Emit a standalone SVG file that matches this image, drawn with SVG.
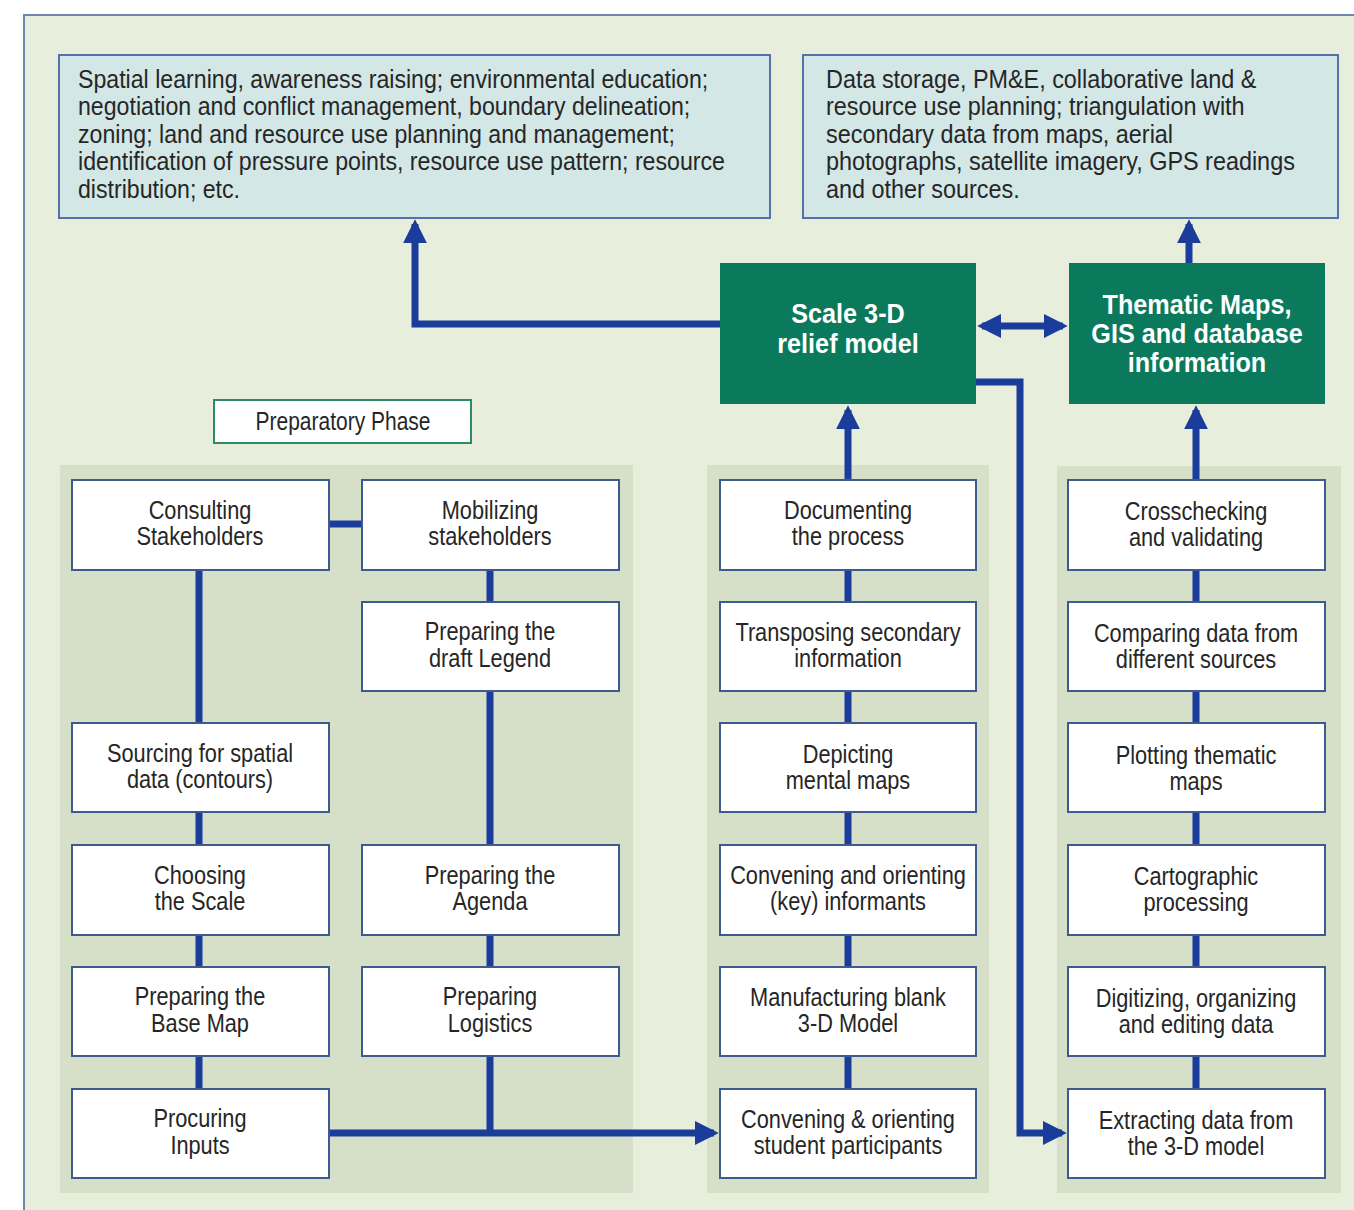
<svg xmlns="http://www.w3.org/2000/svg" width="1354" height="1210" viewBox="0 0 1354 1210">
<defs>
<style>
.frame{fill:#e8eedc;stroke:#6f86b0;stroke-width:2}
.band{fill:#d6dfc8}
.top{fill:#d3e7e6;stroke:#5571a8;stroke-width:2}
.node{fill:#ffffff;stroke:#3f5a8e;stroke-width:2}
.green{fill:#0b7a5c}
.phase{fill:#ffffff;stroke:#2f8a68;stroke-width:2}
.t{font-family:"Liberation Sans",Arial,sans-serif;fill:#262626;text-anchor:middle;font-size:25px}
.tl{font-family:"Liberation Sans",Arial,sans-serif;fill:#262626;font-size:26px}
.tg{font-family:"Liberation Sans",Arial,sans-serif;fill:#ffffff;text-anchor:middle;font-size:28px;font-weight:bold}
.c{fill:none;stroke:#1a3c9a;stroke-width:7}
</style>
<marker id="ah" viewBox="0 0 10 10" refX="8" refY="5" markerWidth="3.4" markerHeight="3.4" orient="auto-start-reverse" markerUnits="strokeWidth">
<path d="M0,0 L10,5 L0,10 Z" fill="#1a3c9a"/>
</marker>
</defs>
<rect x="0" y="0" width="1354" height="1210" fill="#ffffff"/>
<rect class="frame" x="24" y="15" width="1340" height="1205"/>
<g id="bands">
<rect class="band" x="60" y="465" width="573" height="728"/>
<rect class="band" x="707" y="465" width="282" height="728"/>
<rect class="band" x="1057" y="466" width="284" height="727"/>
</g>
<g id="connectors">
<polyline class="c" points="720,324 415,324 415,224" marker-end="url(#ah)"/>
<line class="c" x1="1189" y1="263" x2="1189" y2="224" marker-end="url(#ah)"/>
<line class="c" x1="982" y1="326" x2="1063" y2="326" marker-start="url(#ah)" marker-end="url(#ah)"/>
<line class="c" x1="848" y1="1089" x2="848" y2="410" marker-end="url(#ah)"/>
<line class="c" x1="1196" y1="1089" x2="1196" y2="410" marker-end="url(#ah)"/>
<polyline class="c" points="976,382 1020,382 1020,1133 1062,1133" marker-end="url(#ah)"/>
<line class="c" x1="329" y1="1133" x2="714" y2="1133" marker-end="url(#ah)"/>
<line class="c" x1="490" y1="570" x2="490" y2="1133"/>
<line class="c" x1="199" y1="570" x2="199" y2="1089"/>
<line class="c" x1="329" y1="524" x2="362" y2="524"/>
</g>
<g id="top-left">
<rect class="top" x="59" y="55" width="711" height="163"/>
<text class="tl" transform="translate(78,88) scale(0.89,1)">Spatial learning, awareness raising; environmental education;</text>
<text class="tl" transform="translate(78,115) scale(0.89,1)">negotiation and conflict management, boundary delineation;</text>
<text class="tl" transform="translate(78,143) scale(0.89,1)">zoning; land and resource use planning and management;</text>
<text class="tl" transform="translate(78,170) scale(0.89,1)">identification of pressure points, resource use pattern; resource</text>
<text class="tl" transform="translate(78,198) scale(0.89,1)">distribution; etc.</text>
</g>
<g id="top-right">
<rect class="top" x="803" y="55" width="535" height="163"/>
<text class="tl" transform="translate(826,88) scale(0.9,1)">Data storage, PM&amp;E, collaborative land &amp;</text>
<text class="tl" transform="translate(826,115) scale(0.9,1)">resource use planning; triangulation with</text>
<text class="tl" transform="translate(826,143) scale(0.9,1)">secondary data from maps, aerial</text>
<text class="tl" transform="translate(826,170) scale(0.9,1)">photographs, satellite imagery, GPS readings</text>
<text class="tl" transform="translate(826,198) scale(0.9,1)">and other sources.</text>
</g>
<g id="scale-model">
<rect class="green" x="720" y="263" width="256" height="141"/>
<text class="tg" transform="translate(848,323) scale(0.9,1)">Scale 3-D</text>
<text class="tg" transform="translate(848,353) scale(0.9,1)">relief model</text>
</g>
<g id="thematic-maps">
<rect class="green" x="1069" y="263" width="256" height="141"/>
<text class="tg" transform="translate(1197,314) scale(0.9,1)">Thematic Maps,</text>
<text class="tg" transform="translate(1197,343) scale(0.9,1)">GIS and database</text>
<text class="tg" transform="translate(1197,372) scale(0.9,1)">information</text>
</g>
<g id="preparatory-phase">
<rect class="phase" x="214" y="400" width="257" height="43"/>
<text class="t" transform="translate(343,430) scale(0.84,1)">Preparatory Phase</text>
</g>
<g id="consulting">
<rect class="node" x="72" y="480" width="257" height="90"/>
<text class="t" transform="translate(200,519) scale(0.87,1)">Consulting</text><text class="t" transform="translate(200,545) scale(0.87,1)">Stakeholders</text>
</g>
<g id="mobilizing">
<rect class="node" x="362" y="480" width="257" height="90"/>
<text class="t" transform="translate(490,519) scale(0.87,1)">Mobilizing</text><text class="t" transform="translate(490,545) scale(0.87,1)">stakeholders</text>
</g>
<g id="draft-legend">
<rect class="node" x="362" y="602" width="257" height="89"/>
<text class="t" transform="translate(490,640) scale(0.87,1)">Preparing the</text><text class="t" transform="translate(490,667) scale(0.87,1)">draft Legend</text>
</g>
<g id="sourcing">
<rect class="node" x="72" y="723" width="257" height="89"/>
<text class="t" transform="translate(200,762) scale(0.87,1)">Sourcing for spatial</text><text class="t" transform="translate(200,788) scale(0.87,1)">data (contours)</text>
</g>
<g id="choosing-scale">
<rect class="node" x="72" y="845" width="257" height="90"/>
<text class="t" transform="translate(200,884) scale(0.87,1)">Choosing</text><text class="t" transform="translate(200,910) scale(0.87,1)">the Scale</text>
</g>
<g id="agenda">
<rect class="node" x="362" y="845" width="257" height="90"/>
<text class="t" transform="translate(490,884) scale(0.87,1)">Preparing the</text><text class="t" transform="translate(490,910) scale(0.87,1)">Agenda</text>
</g>
<g id="base-map">
<rect class="node" x="72" y="967" width="257" height="89"/>
<text class="t" transform="translate(200,1005) scale(0.87,1)">Preparing the</text><text class="t" transform="translate(200,1032) scale(0.87,1)">Base Map</text>
</g>
<g id="logistics">
<rect class="node" x="362" y="967" width="257" height="89"/>
<text class="t" transform="translate(490,1005) scale(0.87,1)">Preparing</text><text class="t" transform="translate(490,1032) scale(0.87,1)">Logistics</text>
</g>
<g id="procuring">
<rect class="node" x="72" y="1089" width="257" height="89"/>
<text class="t" transform="translate(200,1127) scale(0.87,1)">Procuring</text><text class="t" transform="translate(200,1154) scale(0.87,1)">Inputs</text>
</g>
<g id="documenting">
<rect class="node" x="720" y="480" width="256" height="90"/>
<text class="t" transform="translate(848,519) scale(0.87,1)">Documenting</text><text class="t" transform="translate(848,545) scale(0.87,1)">the process</text>
</g>
<g id="transposing">
<rect class="node" x="720" y="602" width="256" height="89"/>
<text class="t" transform="translate(848,641) scale(0.87,1)">Transposing secondary</text><text class="t" transform="translate(848,667) scale(0.87,1)">information</text>
</g>
<g id="depicting">
<rect class="node" x="720" y="723" width="256" height="89"/>
<text class="t" transform="translate(848,763) scale(0.87,1)">Depicting</text><text class="t" transform="translate(848,789) scale(0.87,1)">mental maps</text>
</g>
<g id="key-informants">
<rect class="node" x="720" y="845" width="256" height="90"/>
<text class="t" transform="translate(848,884) scale(0.87,1)">Convening and orienting</text><text class="t" transform="translate(848,910) scale(0.87,1)">(key) informants</text>
</g>
<g id="blank-model">
<rect class="node" x="720" y="967" width="256" height="89"/>
<text class="t" transform="translate(848,1006) scale(0.87,1)">Manufacturing blank</text><text class="t" transform="translate(848,1032) scale(0.87,1)">3-D Model</text>
</g>
<g id="student-participants">
<rect class="node" x="720" y="1089" width="256" height="89"/>
<text class="t" transform="translate(848,1128) scale(0.87,1)">Convening &amp; orienting</text><text class="t" transform="translate(848,1154) scale(0.87,1)">student participants</text>
</g>
<g id="crosschecking">
<rect class="node" x="1068" y="480" width="257" height="90"/>
<text class="t" transform="translate(1196,520) scale(0.87,1)">Crosschecking</text><text class="t" transform="translate(1196,546) scale(0.87,1)">and validating</text>
</g>
<g id="comparing">
<rect class="node" x="1068" y="602" width="257" height="89"/>
<text class="t" transform="translate(1196,642) scale(0.87,1)">Comparing data from</text><text class="t" transform="translate(1196,668) scale(0.87,1)">different sources</text>
</g>
<g id="plotting">
<rect class="node" x="1068" y="723" width="257" height="89"/>
<text class="t" transform="translate(1196,764) scale(0.87,1)">Plotting thematic</text><text class="t" transform="translate(1196,790) scale(0.87,1)">maps</text>
</g>
<g id="cartographic">
<rect class="node" x="1068" y="845" width="257" height="90"/>
<text class="t" transform="translate(1196,885) scale(0.87,1)">Cartographic</text><text class="t" transform="translate(1196,911) scale(0.87,1)">processing</text>
</g>
<g id="digitizing">
<rect class="node" x="1068" y="967" width="257" height="89"/>
<text class="t" transform="translate(1196,1007) scale(0.87,1)">Digitizing, organizing</text><text class="t" transform="translate(1196,1033) scale(0.87,1)">and editing data</text>
</g>
<g id="extracting">
<rect class="node" x="1068" y="1089" width="257" height="89"/>
<text class="t" transform="translate(1196,1129) scale(0.87,1)">Extracting data from</text><text class="t" transform="translate(1196,1155) scale(0.87,1)">the 3-D model</text>
</g>
</svg>
